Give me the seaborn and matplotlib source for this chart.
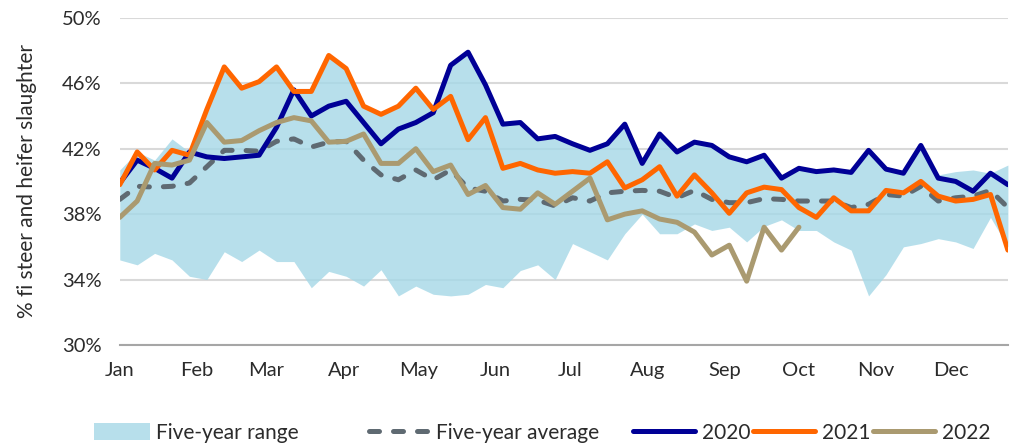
import numpy as np
import pandas as pd
import matplotlib
matplotlib.use("Agg")
import matplotlib.pyplot as plt
import seaborn as sns
from matplotlib.patches import Patch
from matplotlib.lines import Line2D

# weekly share (%) of steers and heifers in slaughter, week 1..52
weeks = np.arange(52)

y2020 = [39.9, 41.3, 40.8, 40.2, 41.8, 41.5, 41.4, 41.5, 41.6, 43.3,
         45.6, 44.0, 44.6, 44.9, 43.6, 42.3, 43.2, 43.6, 44.2, 47.1,
         47.9, 45.9, 43.5, 43.6, 42.6, 42.75, 42.3, 41.9, 42.3, 43.5,
         41.1, 42.9, 41.8, 42.4, 42.2, 41.5, 41.2, 41.6, 40.2, 40.8,
         40.6, 40.7, 40.55, 41.9, 40.75, 40.5, 42.2, 40.2, 40.0, 39.4,
         40.5, 39.8]

y2021 = [39.8, 41.8, 40.7, 41.9, 41.6, 44.4, 47.0, 45.7, 46.1, 47.0,
         45.5, 45.5, 47.7, 46.9, 44.6, 44.1, 44.6, 45.7, 44.4, 45.2,
         42.55, 43.9, 40.8, 41.1, 40.7, 40.5, 40.6, 40.5, 41.2, 39.6,
         40.1, 40.9, 39.1, 40.4, 39.3, 38.05, 39.3, 39.65, 39.5, 38.4,
         37.8, 39.0, 38.2, 38.2, 39.45, 39.3, 40.0, 39.1, 38.8, 38.9,
         39.2, 35.8]

y2022 = [37.8, 38.8, 41.1, 41.0, 41.3, 43.6, 42.4, 42.5, 43.1, 43.6,
         43.9, 43.7, 42.4, 42.45, 42.9, 41.1, 41.1, 42.0, 40.6, 41.0,
         39.2, 39.75, 38.4, 38.3, 39.3, 38.6, 39.4, 40.2, 37.65, 38.0,
         38.2, 37.7, 37.5, 36.9, 35.5, 36.1, 33.9, 37.2, 35.8, 37.2]

avg5 = [38.9, 39.7, 39.65, 39.7, 39.9, 40.9, 41.9, 41.9, 41.85, 42.45,
        42.6, 42.1, 42.4, 42.45, 41.3, 40.4, 40.1, 40.7, 40.1, 40.7,
        39.6, 39.4, 38.8, 38.9, 38.85, 38.5, 39.0, 38.8, 39.3, 39.4,
        39.45, 39.4, 39.0, 39.45, 38.9, 38.7, 38.7, 38.95, 38.9, 38.8,
        38.8, 38.8, 38.4, 38.6, 39.2, 39.1, 39.7, 38.8, 39.0, 39.1,
        39.45, 38.4]

range_hi = [40.7, 41.8, 41.3, 42.6, 41.8, 44.4, 47.0, 45.7, 46.1, 47.0,
            45.6, 45.5, 47.7, 46.9, 44.6, 44.1, 44.6, 45.7, 44.4, 47.1,
            47.9, 45.9, 43.5, 43.6, 42.6, 42.75, 42.3, 41.9, 42.3, 43.5,
            41.1, 42.9, 41.8, 42.4, 42.2, 41.5, 41.2, 41.6, 40.2, 40.8,
            40.6, 40.7, 40.55, 41.9, 40.75, 40.5, 42.2, 40.4, 40.6, 40.7,
            40.5, 41.0]

range_lo = [35.2, 34.9, 35.6, 35.2, 34.2, 34.0, 35.7, 35.1, 35.8, 35.1,
            35.1, 33.5, 34.5, 34.2, 33.6, 34.6, 33.0, 33.6, 33.1, 33.0,
            33.1, 33.7, 33.5, 34.55, 34.9, 34.0, 36.2, 35.7, 35.2, 36.8,
            38.0, 36.8, 36.8, 37.4, 37.0, 37.2, 36.3, 37.25, 37.65, 37.0,
            37.0, 36.3, 35.8, 33.0, 34.3, 36.0, 36.2, 36.5, 36.3, 35.9,
            37.8, 36.0]

months = ["Jan", "Feb", "Mar", "Apr", "May", "Jun",
          "Jul", "Aug", "Sep", "Oct", "Nov", "Dec"]
month_start_day = [0, 31, 59, 90, 120, 151, 181, 212, 243, 273, 304, 334]

C_BAND = "#a5d8e7"
C_AVG = "#5f6a72"
C_2020 = "#000096"
C_2021 = "#ff6600"
C_2022 = "#aa9a70"
C_TEXT = "#2b2b2b"

sns.set_style("white")
plt.rcParams["font.family"] = ["Lato", "DejaVu Sans"]

fig, ax = plt.subplots(figsize=(10.15, 4.46), dpi=100)
fig.subplots_adjust(left=0.118, right=0.993, top=0.96, bottom=0.2265)

ax.set_axisbelow(True)
ax.yaxis.grid(True, color="#d9d9d9", lw=1.5)

ax.fill_between(weeks, range_lo, range_hi, color=C_BAND, alpha=0.8, lw=0, zorder=2)

dash = (0, (2, 2.8))
sns.lineplot(x=weeks, y=avg5, ax=ax, color=C_AVG, lw=3.6, linestyle=dash,
             dash_capstyle="round", zorder=3)
sns.lineplot(x=weeks, y=y2020, ax=ax, color=C_2020, lw=3.6, zorder=4)
sns.lineplot(x=weeks, y=y2021, ax=ax, color=C_2021, lw=3.6, zorder=5)
sns.lineplot(x=np.arange(len(y2022)), y=y2022, ax=ax, color=C_2022, lw=3.6, zorder=6)

ax.set_xlim(0, 51)
ax.set_ylim(30, 50)
ax.set_yticks(np.arange(30, 51, 4))
ax.set_yticklabels([f"{v}%" for v in range(30, 51, 4)])
ax.set_xticks([d / 7 for d in month_start_day])
ax.set_xticklabels(months)
ax.tick_params(axis="both", length=0, labelsize=14.5, colors=C_TEXT)
ax.tick_params(axis="y", pad=13)
ax.tick_params(axis="x", pad=12)
ax.set_ylabel("% fi steer and heifer slaughter", fontsize=15, color=C_TEXT)
ax.yaxis.set_label_coords(-0.093, 0.5)
ax.set_xlabel("")

for s in ["top", "right", "left"]:
    ax.spines[s].set_visible(False)
ax.spines["bottom"].set_color("#a6a6a6")
ax.spines["bottom"].set_linewidth(1.5)

leg_kw = dict(frameon=False, fontsize=15, borderpad=0, borderaxespad=0,
              handletextpad=0.33, loc="center left", labelcolor=C_TEXT)
l1 = fig.legend([Patch(facecolor=C_BAND, alpha=0.8, lw=0)], ["Five-year range"],
                bbox_to_anchor=(0.093, 0.03), handlelength=2.65, handleheight=0.9, **leg_kw)
l2 = fig.legend([Line2D([], [], color=C_AVG, lw=3.6, linestyle=dash, dash_capstyle="round")],
                ["Five-year average"], bbox_to_anchor=(0.364, 0.03), handlelength=2.85, **leg_kw)
l3 = fig.legend([Line2D([], [], color=C_2020, lw=3.6),
                 Line2D([], [], color=C_2021, lw=3.6),
                 Line2D([], [], color=C_2022, lw=3.6)],
                ["2020", "2021", "2022"], ncol=3, columnspacing=0.15,
                bbox_to_anchor=(0.624, 0.03), handlelength=2.95, **leg_kw)

fig.savefig("out.png", dpi=100)
